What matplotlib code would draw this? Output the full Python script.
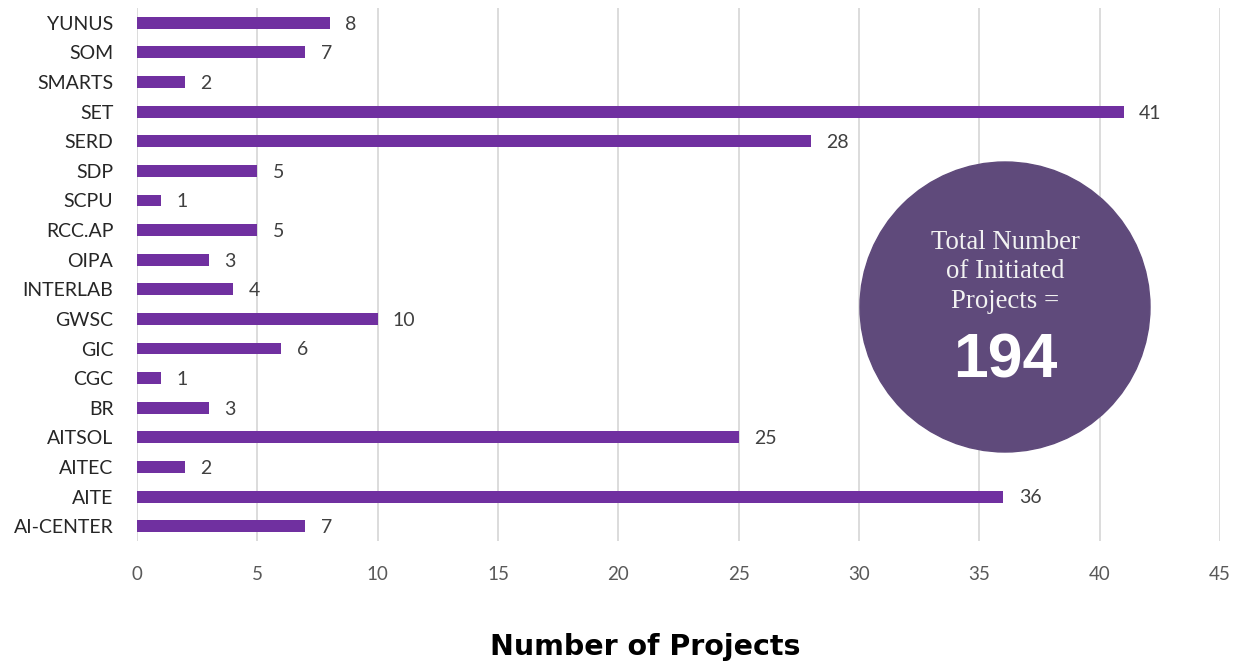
import matplotlib.pyplot as plt
from matplotlib.patches import Ellipse

centers = ['AI-CENTER', 'AITE', 'AITEC', 'AITSOL', 'BR', 'CGC', 'GIC', 'GWSC',
           'INTERLAB', 'OIPA', 'RCC.AP', 'SCPU', 'SDP', 'SERD', 'SET', 'SMARTS',
           'SOM', 'YUNUS']
projects = [7, 36, 2, 25, 3, 1, 6, 10, 4, 3, 5, 1, 5, 28, 41, 2, 7, 8]
total = sum(projects)
x_ticks = list(range(0, 50, 5))

bar_color = '#7030A0'
circle_color = '#5F4A7B'

fig = plt.figure(figsize=(12.41, 6.64), dpi=100)
ax = fig.add_axes([137 / 1241, 1 - 541 / 664, (1220 - 137) / 1241, (541 - 8) / 664])

pos = list(range(len(centers)))
ax.barh(pos, projects, height=0.4, color=bar_color, zorder=3)
ax.set_ylim(-0.5, len(centers) - 0.5)
ax.set_xlim(0, 45)
ax.set_xticks(x_ticks)
ax.set_yticks(pos)
ax.set_yticklabels(centers)

for p, v in zip(pos, projects):
    ax.annotate(str(v), (v, p), xytext=(11, -1), textcoords='offset points',
                va='center', ha='left', fontsize=14, color='#404040', family='Lato')

ax.grid(axis='x', color='#D9D9D9', linewidth=1.3, zorder=0)
for s in ax.spines.values():
    s.set_visible(False)
ax.tick_params(axis='both', length=0)
ax.tick_params(axis='y', pad=17, labelsize=14, labelcolor='#262626')
ax.tick_params(axis='x', pad=18, labelsize=13.5, labelcolor='#595959')
for lbl in ax.get_xticklabels() + ax.get_yticklabels():
    lbl.set_family('Lato')

# summary bubble
cx, cy, r = 1005, 307, 145
fig.patches.append(Ellipse((cx / 1241, 1 - cy / 664), 2 * r / 1241, 2 * r / 664,
                           transform=fig.transFigure, color=circle_color, zorder=5))
fig.text(cx / 1241, 1 - 272 / 664, 'Total Number\nof Initiated\nProjects =',
         ha='center', va='center', fontsize=19.3, color='#F2F2F2',
         family='Liberation Serif', linespacing=1.25, zorder=6)
fig.text(cx / 1241, 1 - 361 / 664, str(total), ha='center', va='center',
         fontsize=45, fontweight='bold', color='white',
         family='Liberation Sans', zorder=6)

fig.text(645 / 1241, 1 - 647 / 664, 'Number of Projects', ha='center', va='center',
         fontsize=20.5, fontweight='bold', color='black', family='DejaVu Sans')

fig.savefig('out.png', dpi=100)
